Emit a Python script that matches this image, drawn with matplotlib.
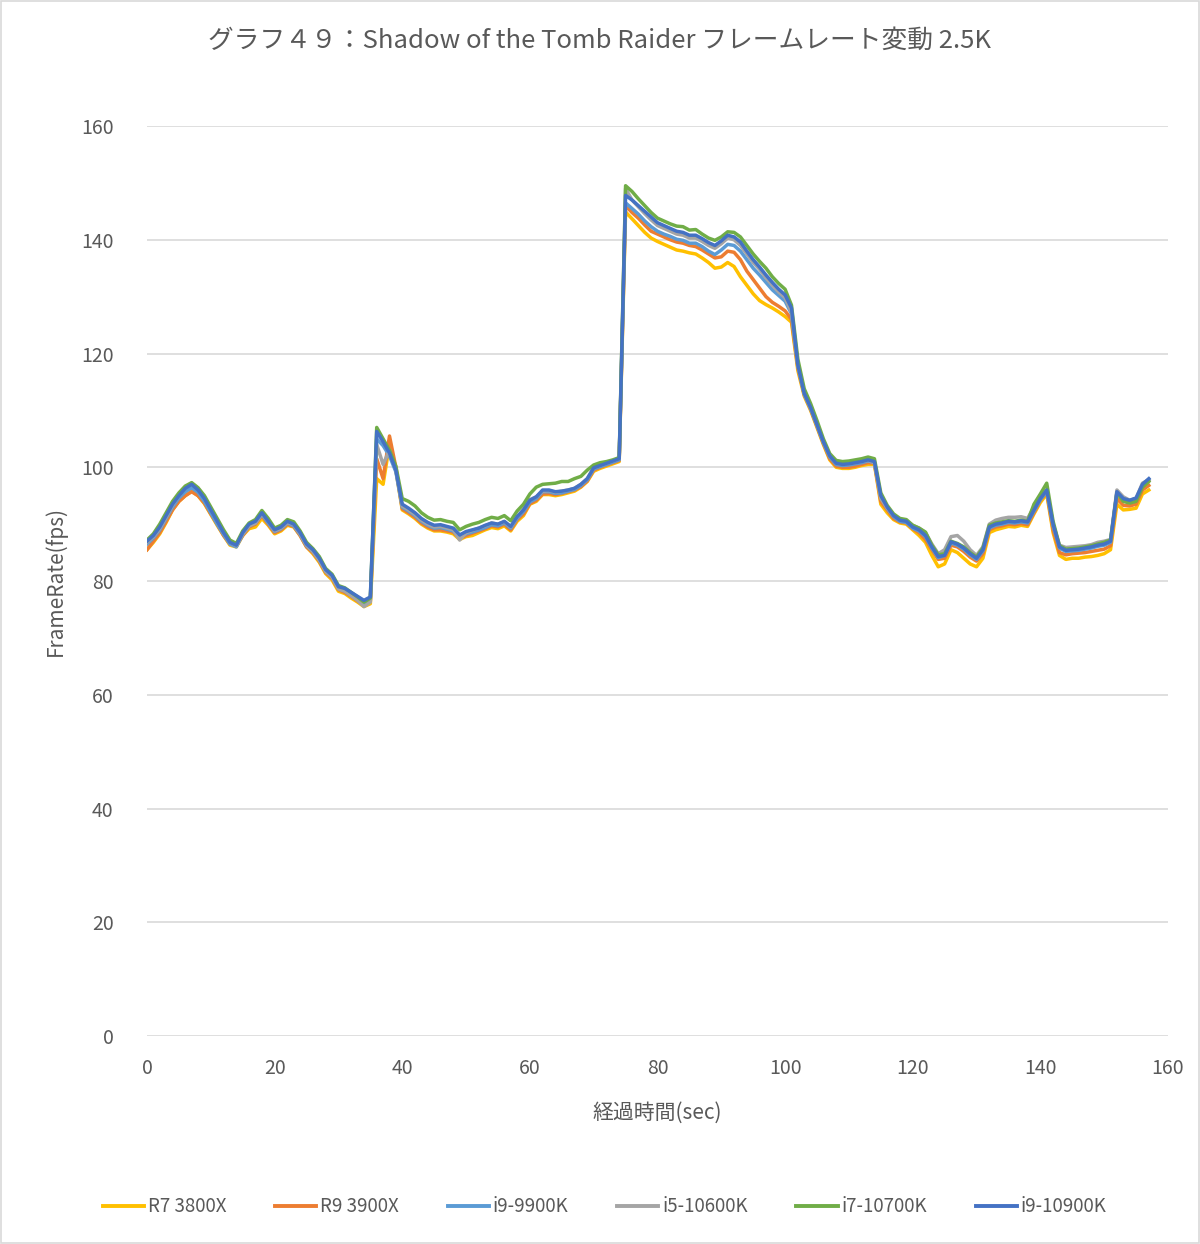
import matplotlib
matplotlib.use("Agg")
import matplotlib.pyplot as plt
from matplotlib.patches import Rectangle

plt.rcParams['font.family'] = ['Noto Sans CJK JP', 'DejaVu Sans']

title = "グラフ４９：Shadow of the Tomb Raider フレームレート変動 2.5K"
x_label = "経過時間(sec)"
y_label = "FrameRate(fps)"
series_names = ["R7 3800X", "R9 3900X", "i9-9900K", "i5-10600K", "i7-10700K", "i9-10900K"]
series_colors = ["#FFC000", "#ED7D31", "#5B9BD5", "#A5A5A5", "#70AD47", "#4472C4"]
x_ticks = [0, 20, 40, 60, 80, 100, 120, 140, 160]
y_ticks = [0, 20, 40, 60, 80, 100, 120, 140, 160]

seconds = list(range(158))

r7_3800x = [
    85.5, 86.8, 88.3, 90.3, 92.5, 94.0, 95.0, 95.8, 95.0, 93.6,
    91.7, 89.8, 88.0, 86.3, 86.0, 88.0, 89.2, 89.5, 91.0, 89.8,
    88.3, 88.8, 89.8, 89.5, 88.0, 86.0, 84.8, 83.3, 81.3, 80.2,
    78.2, 77.8, 77.0, 76.3, 75.5, 76.0, 98.0, 97.0, 104.0, 99.5,
    92.5, 91.8, 91.0, 90.0, 89.3, 88.8, 88.8, 88.6, 88.3, 87.3,
    87.8, 88.0, 88.5, 89.0, 89.4, 89.2, 89.7, 88.8, 90.5, 91.5,
    93.5, 94.0, 95.2, 95.2, 95.0, 95.2, 95.5, 95.8, 96.5, 97.5,
    99.3, 99.8, 100.2, 100.6, 101.0, 144.9, 143.7, 142.5, 141.3, 140.3,
    139.7, 139.2, 138.7, 138.2, 138.0, 137.7, 137.5, 136.8, 136.0, 135.0,
    135.2, 136.0, 135.3, 133.5, 132.0, 130.5, 129.3, 128.6, 128.0, 127.3,
    126.5, 125.5, 117.0, 112.5, 110.0, 107.0, 104.0, 101.3, 100.0, 99.8,
    99.8, 100.0, 100.3, 100.5, 100.5, 93.5, 92.0, 90.8, 90.2, 90.0,
    89.0, 88.0, 86.8, 84.5, 82.5, 83.0, 85.5, 85.0, 84.0, 83.0,
    82.5, 84.0, 88.5, 89.0, 89.3, 89.6, 89.5, 89.8, 89.6, 91.8,
    93.8, 95.3, 88.5, 84.5, 83.8, 84.0, 84.0, 84.2, 84.3, 84.5,
    84.8, 85.5, 93.5, 92.5, 92.6, 92.8, 95.3, 96.0]

r9_3900x = [
    85.5, 87.0, 88.5, 90.5, 92.5, 94.0, 95.0, 95.7, 95.0, 93.7,
    91.8, 90.0, 88.0, 86.5, 86.2, 88.0, 89.5, 90.0, 91.5, 90.0,
    88.5, 89.0, 90.0, 89.6, 88.0, 86.0, 85.0, 83.5, 81.5, 80.5,
    78.5, 78.0, 77.3, 76.5, 75.7, 76.5, 101.5, 98.0, 105.5, 100.0,
    92.7, 92.0, 91.2, 90.2, 89.5, 89.0, 89.0, 88.8, 88.6, 87.5,
    88.0, 88.4, 88.8, 89.2, 89.7, 89.5, 90.0, 89.0, 90.8, 91.8,
    93.6, 94.2, 95.3, 95.4, 95.2, 95.4, 95.7, 96.0, 96.6, 97.6,
    99.5, 100.0, 100.4, 100.8, 101.2, 146.0, 144.8, 143.8, 142.6, 141.5,
    141.0, 140.5, 140.0, 139.6, 139.4, 139.0, 138.8, 138.2, 137.5, 136.8,
    137.0, 138.0, 137.8, 136.5, 134.5, 133.0, 131.5, 130.0, 129.0, 128.3,
    127.5, 126.0, 117.5, 112.8, 110.2, 107.2, 104.2, 101.5, 100.2, 100.0,
    100.0, 100.2, 100.5, 100.8, 100.7, 94.0, 92.5, 91.0, 90.4, 90.2,
    89.2, 88.5, 87.3, 85.5, 83.8, 84.0, 86.3, 86.0, 85.2, 84.2,
    83.5, 84.8, 89.0, 89.5, 89.7, 90.0, 89.9, 90.1, 89.9, 92.0,
    94.2, 95.6, 89.0, 85.0, 84.6, 84.8, 84.9, 85.0, 85.2, 85.4,
    85.6, 86.2, 94.5, 93.3, 93.2, 93.5, 96.0, 96.8]

i9_9900k = [
    86.5, 87.6, 89.0, 91.0, 93.0, 94.6, 95.7, 96.4, 95.6, 94.0,
    92.0, 90.0, 88.2, 86.5, 86.0, 88.2, 89.7, 90.2, 91.7, 90.2,
    88.7, 89.2, 90.2, 89.7, 88.2, 86.2, 85.2, 83.7, 81.7, 80.7,
    78.7, 78.3, 77.6, 76.9, 76.1, 76.8, 105.0, 103.8, 102.0, 99.2,
    93.0, 92.3, 91.5, 90.5, 89.8, 89.3, 89.4, 89.1, 88.8, 87.6,
    88.3, 88.6, 89.0, 89.4, 89.9, 89.7, 90.2, 89.3, 91.0, 92.2,
    93.9, 94.5, 95.7, 95.7, 95.4, 95.5, 95.8, 96.1, 96.8, 97.8,
    99.7, 100.1, 100.5, 100.9, 101.3, 146.5, 145.5, 144.5, 143.3, 142.3,
    141.5, 141.0, 140.6, 140.1, 139.9, 139.4, 139.4, 138.8, 138.0, 137.4,
    138.2, 139.2, 139.0, 138.0, 136.5, 135.0, 133.8, 132.5, 131.2, 130.2,
    129.2, 127.0, 117.8, 112.8, 110.3, 107.3, 104.3, 101.8, 100.5, 100.3,
    100.4, 100.6, 100.8, 101.1, 100.8, 94.8, 92.8, 91.3, 90.5, 90.3,
    89.3, 88.8, 87.8, 85.8, 84.1, 84.5, 86.7, 86.3, 85.6, 84.6,
    83.8, 85.3, 89.3, 89.8, 90.0, 90.3, 90.2, 90.4, 90.2, 92.3,
    94.3, 95.8, 89.7, 85.8, 85.2, 85.3, 85.4, 85.6, 85.8, 86.1,
    86.3, 86.8, 95.5, 94.2, 93.9, 94.2, 96.7, 97.8]

i5_10600k = [
    86.8, 87.8, 89.2, 91.2, 93.3, 95.0, 96.5, 97.2, 96.3, 94.8,
    92.6, 90.5, 88.5, 86.8, 86.2, 88.3, 89.7, 90.2, 91.8, 90.5,
    88.8, 89.3, 90.3, 89.9, 88.3, 86.3, 85.2, 83.7, 81.7, 80.7,
    78.6, 78.2, 77.4, 76.6, 75.5, 76.3, 104.0, 100.5, 103.0, 99.5,
    93.2, 92.5, 91.7, 90.7, 90.0, 89.5, 89.6, 89.3, 89.0, 87.2,
    88.5, 88.9, 89.3, 89.7, 90.2, 90.0, 90.4, 89.5, 91.2, 92.6,
    94.3, 94.8, 95.8, 95.9, 95.6, 95.8, 96.0, 96.3, 97.0, 98.0,
    99.9, 100.3, 100.7, 101.1, 101.5, 149.0, 147.0, 145.8, 144.6, 143.5,
    142.5, 142.0, 141.5, 141.0, 140.8, 140.3, 140.3, 139.7, 139.0, 138.5,
    139.3, 140.3, 140.0, 139.0, 137.5, 136.0, 134.8, 133.3, 132.0, 130.8,
    129.8, 127.2, 118.0, 113.0, 110.5, 107.5, 104.5, 102.0, 100.7, 100.5,
    100.6, 100.8, 101.0, 101.2, 100.8, 94.5, 92.8, 91.5, 90.8, 90.6,
    89.8, 89.3, 88.5, 86.5, 84.8, 85.5, 87.8, 88.0, 87.0, 85.5,
    84.5, 86.0, 90.0, 90.7, 91.0, 91.2, 91.2, 91.3, 91.0, 93.0,
    94.8, 96.0, 90.0, 86.3, 85.9, 86.0, 86.1, 86.2, 86.4, 86.8,
    87.0, 87.3, 96.0, 94.8, 94.2, 94.5, 97.2, 97.8]

i7_10700k = [
    87.2, 88.3, 90.0, 92.0, 94.0, 95.5, 96.7, 97.3, 96.4, 95.0,
    93.0, 91.0, 89.0, 87.2, 86.6, 88.8, 90.2, 90.8, 92.4, 91.0,
    89.3, 89.8, 90.8, 90.4, 88.8, 86.8, 85.7, 84.3, 82.2, 81.2,
    79.2, 78.8, 78.0, 77.2, 76.3, 77.0, 107.0, 105.0, 103.0, 100.2,
    94.5, 94.0, 93.2, 92.0, 91.2, 90.7, 90.8, 90.5, 90.3, 89.0,
    89.6, 90.0, 90.3, 90.8, 91.2, 91.0, 91.5, 90.6, 92.3, 93.5,
    95.3, 96.5, 97.0, 97.1, 97.2, 97.5, 97.5, 98.0, 98.4, 99.5,
    100.4, 100.8, 101.0, 101.3, 101.7, 149.5, 148.5, 147.2, 146.0, 144.8,
    143.8, 143.3, 142.8, 142.4, 142.3, 141.7, 141.8, 141.0, 140.3, 139.9,
    140.5, 141.4, 141.3, 140.5, 139.0, 137.5, 136.2, 135.0, 133.5, 132.3,
    131.3, 128.5, 119.0, 113.8, 111.2, 108.2, 105.0, 102.4, 101.2, 101.0,
    101.1, 101.3, 101.5, 101.8, 101.5, 95.5, 93.3, 91.8, 91.0, 90.8,
    89.8, 89.3, 88.6, 86.3, 84.6, 84.8, 87.0, 86.6, 86.0, 85.0,
    84.2, 85.8, 89.8, 90.2, 90.4, 90.6, 90.5, 90.7, 90.5, 93.5,
    95.3, 97.2, 90.5, 86.2, 85.6, 85.7, 85.8, 86.0, 86.2, 86.5,
    86.8, 87.2, 95.5, 94.0, 93.7, 94.0, 96.5, 97.5]

i9_10900k = [
    87.0, 88.0, 89.5, 91.5, 93.5, 95.0, 96.3, 97.0, 96.0, 94.5,
    92.5, 90.5, 88.5, 86.8, 86.3, 88.5, 90.0, 90.5, 92.0, 90.5,
    89.0, 89.5, 90.5, 90.0, 88.5, 86.5, 85.5, 84.0, 82.0, 81.0,
    79.0, 78.7, 78.0, 77.3, 76.6, 77.2, 106.3, 104.5, 102.5, 99.5,
    93.5, 92.8, 92.0, 91.0, 90.3, 89.8, 89.9, 89.6, 89.3, 88.1,
    88.7, 89.0, 89.3, 89.8, 90.2, 90.0, 90.5, 89.6, 91.3, 92.5,
    94.2, 94.8, 96.0, 96.0, 95.7, 95.8, 96.0, 96.3, 97.0, 98.0,
    99.9, 100.3, 100.7, 101.1, 101.5, 147.8, 147.0, 146.0, 145.0, 144.0,
    143.0, 142.5, 142.0, 141.5, 141.3, 140.8, 140.8, 140.2, 139.5, 139.0,
    139.8, 140.8, 140.5, 139.6, 138.0, 136.5, 135.2, 133.8, 132.5, 131.3,
    130.3, 128.0, 118.0, 113.0, 110.5, 107.5, 104.5, 102.0, 100.7, 100.5,
    100.6, 100.8, 101.0, 101.3, 101.0, 95.0, 93.0, 91.5, 90.7, 90.5,
    89.5, 89.0, 88.0, 86.0, 84.3, 84.5, 86.9, 86.5, 85.8, 84.8,
    84.0, 85.5, 89.5, 90.0, 90.2, 90.5, 90.4, 90.6, 90.4, 92.5,
    94.5, 96.0, 90.0, 86.0, 85.4, 85.5, 85.6, 85.8, 86.0, 86.3,
    86.5, 87.0, 95.7, 94.5, 94.2, 94.6, 97.0, 98.0]

all_series = [r7_3800x, r9_3900x, i9_9900k, i5_10600k, i7_10700k, i9_10900k]

fig = plt.figure(figsize=(12.0, 12.44), dpi=100)
ax = fig.add_axes([0.1225, 0.1672, 0.9733 - 0.1225, 0.8987 - 0.1672])

for name, color, vals in zip(series_names, series_colors, all_series):
    ax.plot(seconds, vals, color=color, lw=2.5, label=name, solid_joinstyle='round')

ax.set_xlim(0, 160)
ax.set_ylim(0, 160)
ax.set_xticks(x_ticks)
ax.set_yticks(y_ticks)
ax.grid(axis='y', color='#D9D9D9', lw=1.2)
ax.set_axisbelow(True)
for s in ax.spines.values():
    s.set_visible(False)
ax.tick_params(axis='both', length=0, labelsize=14, labelcolor='#595959')
ax.tick_params(axis='x', pad=16)
ax.tick_params(axis='y', pad=24)

ax.set_xlabel(x_label, fontsize=15, color='#595959', labelpad=16)
ax.set_ylabel(y_label, fontsize=15, color='#595959', labelpad=10)

fig.text(0.5, 1 - 41 / 1244, title, ha='center', va='center', fontsize=18.5, color='#595959')

leg = fig.legend(loc='center', bbox_to_anchor=(0.504, 1 - 1207 / 1244), ncol=6, frameon=False,
                 fontsize=13.5, handlelength=2.2, columnspacing=2.6, handletextpad=0.2,
                 labelcolor='#595959')
for line in leg.get_lines():
    line.set_linewidth(2.8)

fig.patches.append(Rectangle((0.001, 0.001), 0.998, 0.998, transform=fig.transFigure,
                             fill=False, edgecolor='#D9D9D9', lw=1.2))

fig.savefig("out.png", dpi=100, facecolor='white')
